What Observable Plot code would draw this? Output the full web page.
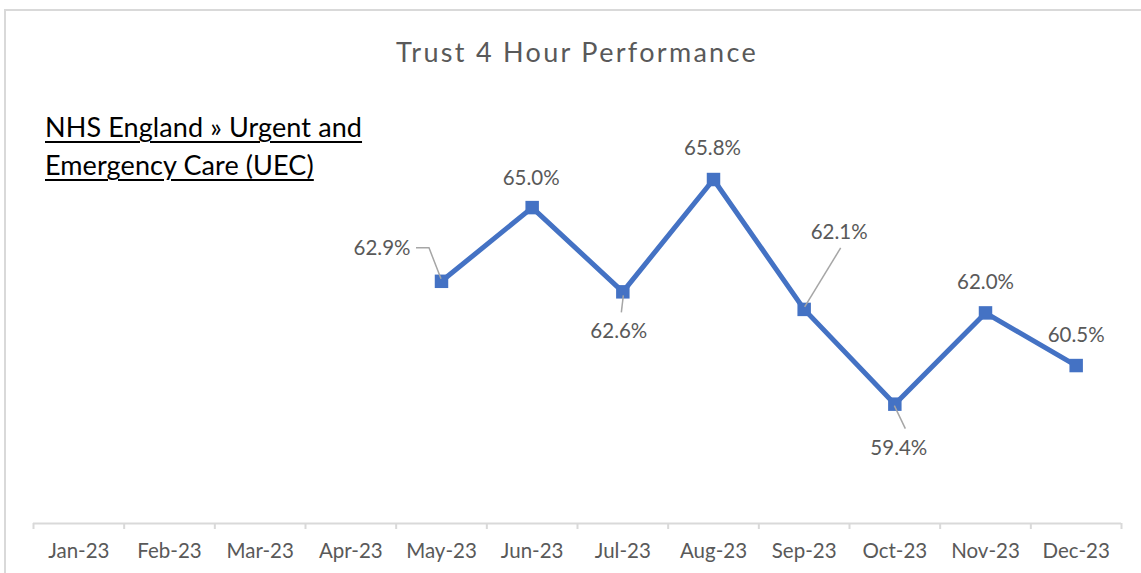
<!DOCTYPE html>
<html>
<head>
<meta charset="utf-8">
<script src="https://cdn.jsdelivr.net/npm/d3@7"></script>
<script src="https://cdn.jsdelivr.net/npm/@observablehq/plot@0.6"></script>
<style>
  body { margin: 0; background: #fff; }
  #wrap { position: relative; width: 1141px; height: 573px; overflow: hidden; font-family: Lato, "Open Sans", sans-serif; }
  #frame { position: absolute; left: 4px; top: 9px; width: 1160px; height: 620px; border: 2px solid #d9d9d9; box-sizing: border-box; }
  #header { position: relative; height: 100px; }
  #title { position: absolute; left: 4px; width: 1146px; top: 36px; text-align: center; font-size: 27px; letter-spacing: 2.3px; line-height: 32px; color: #595959; }
  #source { position: absolute; left: 45px; top: 108px; font-size: 27px; letter-spacing: 0.1px; line-height: 38px; color: #000; text-decoration: underline; text-decoration-thickness: 1.5px; text-underline-offset: 4px; }
  #chart { position: relative; }
  #chart svg { display: block; }
</style>
</head>
<body>
<div id="wrap">
  <div id="frame"></div>
  <div id="header">
    <div id="title">Trust 4 Hour Performance</div>
  </div>
  <div id="chart"></div>
  <div id="source">NHS England » Urgent and<br>Emergency Care (UEC)</div>
</div>
<script>
// ---- data ----
const months = ["Jan-23","Feb-23","Mar-23","Apr-23","May-23","Jun-23","Jul-23","Aug-23","Sep-23","Oct-23","Nov-23","Dec-23"];
const performance = [null, null, null, null, 62.9, 65.0, 62.6, 65.8, 62.1, 59.4, 62.0, 60.5];
const yDomain = [56, 66];

// ---- label layout (pixel offsets from the point) ----
const labelLayout = {
  "May-23": {dx: -31, dy: -33, anchor: "end", leader: [[-25, -33], [-12, -33], [0, -2]]},
  "Jun-23": {dx: -1, dy: -29, anchor: "middle"},
  "Jul-23": {dx: -4, dy: 40, anchor: "middle", leader: [[1, 4], [-1, 21]]},
  "Aug-23": {dx: -1, dy: -31, anchor: "middle"},
  "Sep-23": {dx: 35, dy: -77, anchor: "middle", leader: [[37, -61], [1, -2]]},
  "Oct-23": {dx: 4, dy: 44, anchor: "middle", leader: [[0, 2], [11, 25]]},
  "Nov-23": {dx: 0, dy: -30, anchor: "middle"},
  "Dec-23": {dx: 0, dy: -30, anchor: "middle"}
};

const data = months.map((m, i) => ({i, month: m, value: performance[i]})).filter(d => d.value != null);
const boundaries = d3.range(-0.5, months.length, 1);

const blue = "#4472C4";
const grey = "#595959";

const labelMarks = data.map(d => {
  const L = labelLayout[d.month];
  return Plot.text([d], {
    x: "i", y: "value", text: d => d.value.toFixed(1) + "%",
    dx: L.dx, dy: L.dy, textAnchor: L.anchor,
    fill: grey, fontSize: 20.5, fontFamily: "Lato"
  });
});

const chart = Plot.plot({
  width: 1141,
  height: 473,
  marginLeft: 33,
  marginRight: 20,
  marginTop: 72,
  marginBottom: 50,
  style: {fontFamily: "Lato", background: "transparent", overflow: "visible"},
  x: {type: "linear", domain: [-0.5, months.length - 0.5], axis: null},
  y: {domain: yDomain, axis: null},
  marks: [
    Plot.ruleY([yDomain[0]], {stroke: "#d9d9d9", strokeWidth: 2}),
    Plot.axisX(boundaries, {label: null, tickSize: 6, tickFormat: () => "", stroke: "#d9d9d9", strokeWidth: 2}),
    Plot.axisX(d3.range(months.length), {label: null, tickSize: 0, tickPadding: 20, tickFormat: i => months[i], fill: grey, fontSize: 20.5, fontFamily: "Lato"}),
    Plot.line(data, {x: "i", y: "value", stroke: blue, strokeWidth: 5}),
    Plot.dot(data, {x: "i", y: "value", symbol: "square", r: 7.6, fill: blue, stroke: "none"}),
    ...labelMarks
  ]
});

document.getElementById("chart").appendChild(chart);

// leader lines positioned via the chart's own scales
const sx = chart.scale("x"), sy = chart.scale("y");
const svg = d3.select(chart);
const g = svg.append("g").attr("fill", "none").attr("stroke", "#a6a6a6").attr("stroke-width", 1.5);
data.forEach(d => {
  const L = labelLayout[d.month];
  if (!L.leader) return;
  const px = sx.apply(d.i), py = sy.apply(d.value);
  g.append("path").attr("d", "M" + L.leader.map(([a, b]) => (px + a) + "," + (py + b)).join("L"));
});
</script>
</body>
</html>
